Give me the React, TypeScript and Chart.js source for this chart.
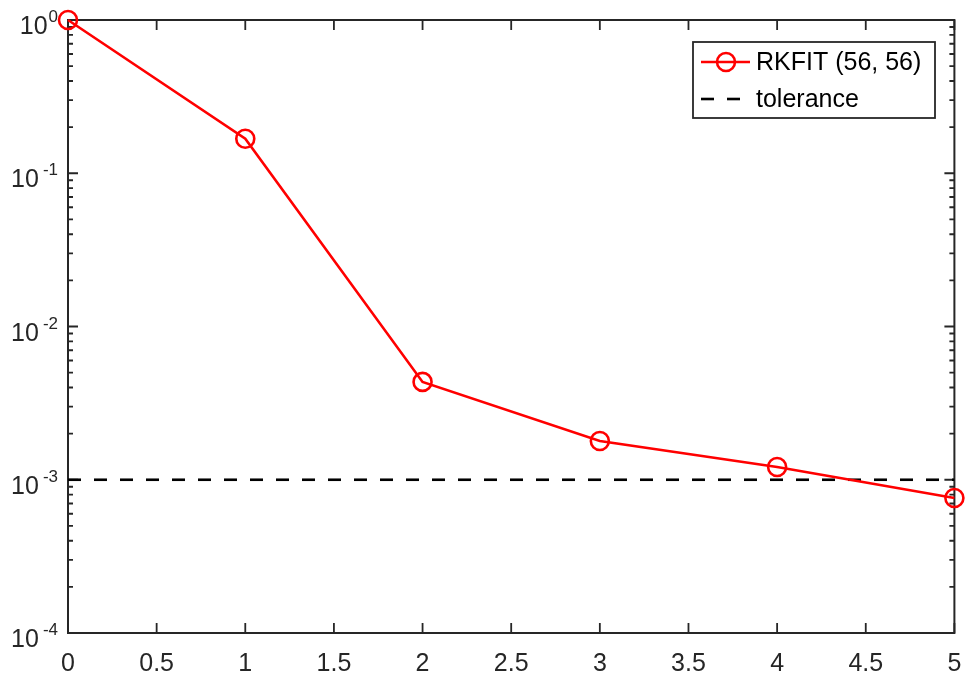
import React, { useEffect, useRef } from "react";
import { Chart, registerables } from "chart.js";

Chart.register(...registerables);

const iterations = [0, 1, 2, 3, 4, 5];
const rkfitErrors = [1.0, 0.168, 0.00435, 0.00179, 0.00121, 0.00076];
const toleranceX = [0, 5];
const toleranceY = [1e-3, 1e-3];
const seriesLabels = ["RKFIT (56, 56)", "tolerance"];
const xTickValues = [0, 0.5, 1, 1.5, 2, 2.5, 3, 3.5, 4, 4.5, 5];
const xTickLabels = ["0", "0.5", "1", "1.5", "2", "2.5", "3", "3.5", "4", "4.5", "5"];
const yDecadeExponents = [0, -1, -2, -3, -4];

const FONT = '"Liberation Sans", Arial, Helvetica, sans-serif';
const AXIS_COLOR = "#262626";

const axesPlugin = {
  id: "matlabAxes",
  beforeDatasetsDraw(chart: any) {
    const ctx = chart.ctx;
    const { left, right, top, bottom } = chart.chartArea;
    const xs = chart.scales.x;
    const ys = chart.scales.y;
    ctx.save();
    ctx.strokeStyle = AXIS_COLOR;
    ctx.lineWidth = 2;
    ctx.strokeRect(left, top, right - left, bottom - top);

    const major = 10;
    const minor = 5;
    ctx.lineWidth = 1.8;
    ctx.beginPath();
    for (const v of xTickValues) {
      const px = xs.getPixelForValue(v);
      ctx.moveTo(px, bottom);
      ctx.lineTo(px, bottom - major);
      ctx.moveTo(px, top);
      ctx.lineTo(px, top + major);
    }
    for (const e of yDecadeExponents) {
      const py = ys.getPixelForValue(Math.pow(10, e));
      ctx.moveTo(left, py);
      ctx.lineTo(left + major, py);
      ctx.moveTo(right, py);
      ctx.lineTo(right - major, py);
      if (e > -4) {
        for (let m = 2; m <= 9; m++) {
          const my = ys.getPixelForValue(m * Math.pow(10, e - 1));
          ctx.moveTo(left, my);
          ctx.lineTo(left + minor, my);
          ctx.moveTo(right, my);
          ctx.lineTo(right - minor, my);
        }
      }
    }
    ctx.stroke();

    ctx.fillStyle = AXIS_COLOR;
    ctx.font = `25px ${FONT}`;
    ctx.textAlign = "center";
    ctx.textBaseline = "alphabetic";
    xTickValues.forEach((v, i) => {
      ctx.fillText(xTickLabels[i], xs.getPixelForValue(v), bottom + 38);
    });

    for (const e of yDecadeExponents) {
      const py = ys.getPixelForValue(Math.pow(10, e));
      const expText = String(e);
      ctx.font = `17px ${FONT}`;
      const expW = ctx.measureText(expText).width;
      const expLeft = left - 10 - expW;
      ctx.textAlign = "left";
      ctx.fillText(expText, expLeft, py + 2);
      ctx.font = `25px ${FONT}`;
      ctx.textAlign = "right";
      ctx.fillText("10", expLeft - (e < 0 ? 4 : 1), py + 14);
    }
    ctx.restore();
  },
  afterDatasetsDraw(chart: any) {
    const ctx = chart.ctx;
    ctx.save();
    const bx = 693, by = 42, bw = 242, bh = 76;
    ctx.fillStyle = "#ffffff";
    ctx.fillRect(bx, by, bw, bh);
    ctx.strokeStyle = AXIS_COLOR;
    ctx.lineWidth = 1.8;
    ctx.strokeRect(bx, by, bw, bh);

    const row1 = 62, row2 = 99;
    ctx.strokeStyle = "#ff0000";
    ctx.lineWidth = 2.6;
    ctx.beginPath();
    ctx.moveTo(701, row1);
    ctx.lineTo(750, row1);
    ctx.stroke();
    ctx.beginPath();
    ctx.arc(726, row1, 9, 0, Math.PI * 2);
    ctx.stroke();
    ctx.strokeStyle = "#000000";
    ctx.lineWidth = 2.6;
    ctx.setLineDash([13, 13]);
    ctx.beginPath();
    ctx.moveTo(701, row2);
    ctx.lineTo(750, row2);
    ctx.stroke();
    ctx.setLineDash([]);

    ctx.fillStyle = "#000000";
    ctx.font = `25px ${FONT}`;
    ctx.textAlign = "left";
    ctx.textBaseline = "middle";
    ctx.fillText(seriesLabels[0], 756, row1 + 1);
    ctx.fillText(seriesLabels[1], 756, row2 + 1);
    ctx.restore();
  },
};

export default function App() {
  const canvasRef = useRef<HTMLCanvasElement | null>(null);

  useEffect(() => {
    const canvas = canvasRef.current;
    if (!canvas) return;
    const chart = new Chart(canvas, {
      type: "line",
      data: {
        datasets: [
          {
            label: seriesLabels[0],
            data: iterations.map((x, i) => ({ x, y: rkfitErrors[i] })),
            borderColor: "#ff0000",
            backgroundColor: "rgba(0,0,0,0)",
            borderWidth: 2.6,
            pointRadius: 9,
            pointBorderWidth: 2.6,
            pointBorderColor: "#ff0000",
            pointBackgroundColor: "rgba(0,0,0,0)",
            pointStyle: "circle",
            tension: 0,
            clip: false as any,
          },
          {
            label: seriesLabels[1],
            data: toleranceX.map((x, i) => ({ x, y: toleranceY[i] })),
            borderColor: "#000000",
            borderWidth: 2.6,
            borderDash: [13, 13],
            pointRadius: 0,
            tension: 0,
          },
        ],
      },
      options: {
        animation: false,
        responsive: false,
        devicePixelRatio: 1,
        layout: { padding: { left: 68, top: 20, right: 9, bottom: 44 } },
        plugins: {
          legend: { display: false },
          tooltip: { enabled: false },
        },
        scales: {
          x: { type: "linear", min: 0, max: 5, display: false },
          y: { type: "logarithmic", min: 1e-4, max: 1, display: false },
        },
      },
      plugins: [axesPlugin],
    });
    return () => chart.destroy();
  }, []);

  return (
    <div style={{ position: "fixed", left: 0, top: 0, width: 966, height: 677, background: "#fff" }}>
      <canvas ref={canvasRef} width={966} height={677} style={{ width: 966, height: 677, display: "block" }} />
    </div>
  );
}
